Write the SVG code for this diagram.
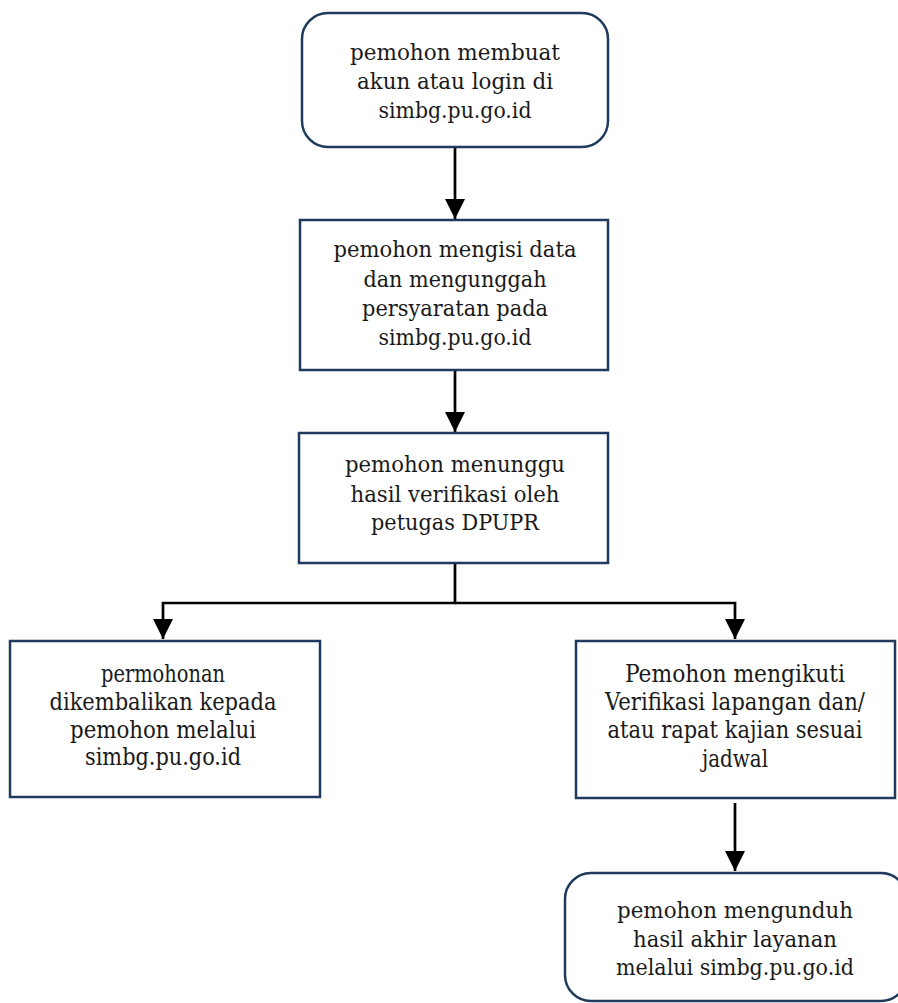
<svg xmlns="http://www.w3.org/2000/svg" width="898" height="1003" viewBox="0 0 898 1003">
<defs>
<style>
.box{fill:#fff;stroke:#1f3a5c;stroke-width:2.5}
.t{font-family:"DejaVu Serif","Liberation Serif",serif;font-size:23px;fill:#1a1a1a;text-anchor:middle}
.c{font-family:"DejaVu Serif Condensed","DejaVu Serif","Liberation Serif",serif;font-stretch:condensed;font-size:25px;fill:#1a1a1a;text-anchor:middle}
.ln{fill:none;stroke:#000;stroke-width:2.7}
</style>
<marker id="ah" viewBox="0 0 20 20" refX="20" refY="10" markerWidth="20" markerHeight="20" markerUnits="userSpaceOnUse" orient="auto">
<path d="M0,0 L20,10 L0,20 z" fill="#000"/>
</marker>
</defs>
<rect width="898" height="1003" fill="#fff"/>
<g id="connectors">
<line class="ln" x1="455" y1="147" x2="455" y2="219" marker-end="url(#ah)"/>
<line class="ln" x1="455" y1="370" x2="455" y2="432" marker-end="url(#ah)"/>
<polyline class="ln" points="455,563 455,603 163,603 163,639" marker-end="url(#ah)"/>
<polyline class="ln" points="455,603 735,603 735,639" marker-end="url(#ah)"/>
<line class="ln" x1="735" y1="803" x2="735" y2="871" marker-end="url(#ah)"/>
</g>
<g id="n1">
<rect class="box" x="302" y="13" width="306" height="134" rx="26"/>
<text class="t" x="455" y="60" textLength="210" lengthAdjust="spacingAndGlyphs">pemohon membuat</text>
<text class="t" x="455" y="89" textLength="196" lengthAdjust="spacingAndGlyphs">akun atau login di</text>
<text class="t" x="455" y="118" textLength="153" lengthAdjust="spacingAndGlyphs">simbg.pu.go.id</text>
</g>
<g id="n2">
<rect class="box" x="300" y="220" width="308" height="150"/>
<text class="t" x="455" y="257" textLength="243" lengthAdjust="spacingAndGlyphs">pemohon mengisi data</text>
<text class="t" x="455" y="287" textLength="183" lengthAdjust="spacingAndGlyphs">dan mengunggah</text>
<text class="t" x="455" y="316" textLength="186" lengthAdjust="spacingAndGlyphs">persyaratan pada</text>
<text class="t" x="455" y="345" textLength="153" lengthAdjust="spacingAndGlyphs">simbg.pu.go.id</text>
</g>
<g id="n3">
<rect class="box" x="299" y="433" width="309" height="130"/>
<text class="t" x="455" y="472" textLength="220" lengthAdjust="spacingAndGlyphs">pemohon menunggu</text>
<text class="t" x="455" y="502" textLength="209" lengthAdjust="spacingAndGlyphs">hasil verifikasi oleh</text>
<text class="t" x="455" y="530" textLength="168" lengthAdjust="spacingAndGlyphs">petugas DPUPR</text>
</g>
<g id="n4">
<rect class="box" x="10" y="641" width="310" height="156"/>
<text class="c" x="163" y="682" textLength="124" lengthAdjust="spacingAndGlyphs">permohonan</text>
<text class="c" x="163" y="710" textLength="227" lengthAdjust="spacingAndGlyphs">dikembalikan kepada</text>
<text class="c" x="163" y="738" textLength="186" lengthAdjust="spacingAndGlyphs">pemohon melalui</text>
<text class="c" x="163" y="765" textLength="156" lengthAdjust="spacingAndGlyphs">simbg.pu.go.id</text>
</g>
<g id="n5">
<rect class="box" x="576" y="641" width="319" height="157"/>
<text class="c" x="735" y="682" textLength="220" lengthAdjust="spacingAndGlyphs">Pemohon mengikuti</text>
<text class="c" x="735" y="710" textLength="260" lengthAdjust="spacingAndGlyphs">Verifikasi lapangan dan/</text>
<text class="c" x="735" y="738" textLength="255" lengthAdjust="spacingAndGlyphs">atau rapat kajian sesuai</text>
<text class="c" x="735" y="767" textLength="66" lengthAdjust="spacingAndGlyphs">jadwal</text>
</g>
<g id="n6">
<rect class="box" x="565" y="873" width="342" height="128" rx="26"/>
<text class="t" x="735" y="918" textLength="236" lengthAdjust="spacingAndGlyphs">pemohon mengunduh</text>
<text class="t" x="735" y="947" textLength="204" lengthAdjust="spacingAndGlyphs">hasil akhir layanan</text>
<text class="t" x="735" y="975" textLength="238" lengthAdjust="spacingAndGlyphs">melalui simbg.pu.go.id</text>
</g>
</svg>
